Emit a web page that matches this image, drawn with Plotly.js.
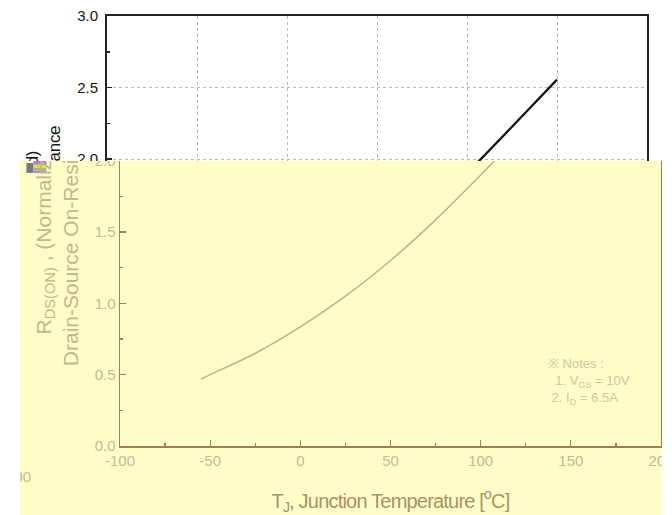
<!DOCTYPE html>
<html>
<head>
<meta charset="utf-8">
<script src="https://cdn.plot.ly/plotly-3.0.1.min.js"></script>
<style>
  html, body { margin: 0; padding: 0; background: #ffffff; }
  #page { position: relative; width: 672px; height: 515px; overflow: hidden; }
  #main { position: absolute; left: 0; top: 0; width: 672px; height: 515px; }
  #note { position: absolute; left: 20px; top: 161px; width: 642px; height: 354px; overflow: hidden; }
  #faded { position: absolute; left: -20px; top: -161px; width: 672px; height: 515px; }
  #faded .g-xtitle text { letter-spacing: -0.8px; }
  #main .g-ytitle text { letter-spacing: -0.3px; }
</style>
</head>
<body>
<div id="page">
  <div id="main"></div>
  <div id="note"><div id="faded"></div></div>
</div>
<script>
// Junction temperature (°C) and normalized on-resistance
var temperature = [-55, -50, -25, 0, 25, 50, 75, 100, 125, 150];
var rdsonNorm   = [0.47, 0.50, 0.65, 0.835, 1.05, 1.30, 1.585, 1.90, 2.225, 2.555];

var xTickVals = [-100, -50, 0, 50, 100, 150, 200];
var xTickText = ['-100', '-50', '0', '50', '100', '150', '200'];
var yTickVals = [0.0, 0.5, 1.0, 1.5, 2.0, 2.5, 3.0];
var yTickText = ['0.0', '0.5', '1.0', '1.5', '2.0', '2.5', '3.0'];

var xTitle = 'T<sub>J</sub>, Junction Temperature [<sup>o</sup>C]';
var yTitle = 'R<sub>DS(ON)</sub> , (Normalized)<br>Drain-Source On-Resistance';
var notesText = '\u203B Notes :<br>&nbsp;&nbsp;1. V<sub>GS</sub> = 10V<br>&nbsp;2. I<sub>D</sub> = 6.5A';
var strayLabel = '-100';

var sans = '"Liberation Sans", Arial, sans-serif';

// ---------- original chart (behind) ----------
var mainTrace = {
  x: temperature, y: rdsonNorm, type: 'scatter', mode: 'lines',
  line: { color: '#111111', width: 2.2, shape: 'spline' },
  hoverinfo: 'skip', showlegend: false
};
function mainAxis(extra) {
  var a = {
    showgrid: true, gridcolor: '#b8b8b8', griddash: 'dot', gridwidth: 1,
    showline: true, linecolor: '#222222', linewidth: 2, mirror: true,
    ticks: 'inside', ticklen: 5, tickcolor: '#222222', tickwidth: 1.5,
    zeroline: false, fixedrange: true, ticklabelstandoff: 4,
    tickfont: { family: sans, size: 15, color: '#111111' }
  };
  for (var k in extra) a[k] = extra[k];
  return a;
}
var mainLayout = {
  width: 672, height: 515,
  margin: { l: 107, r: 25, t: 16, b: 70 },
  paper_bgcolor: '#ffffff', plot_bgcolor: '#ffffff',
  showlegend: false,
  xaxis: mainAxis({ range: [-100, 200], tickvals: xTickVals, ticktext: xTickText,
    minor: { dtick: 25, ticks: 'inside', ticklen: 3, tickcolor: '#222222', showgrid: false },
    title: { text: xTitle, font: { family: sans, size: 18, color: '#111111' } } }),
  yaxis: mainAxis({ range: [0, 3], tickvals: yTickVals, ticktext: yTickText,
    minor: { dtick: 0.25, ticks: 'inside', ticklen: 3, tickcolor: '#222222', showgrid: false },
    title: { text: yTitle, standoff: 12, font: { family: sans, size: 17, color: '#111111' } } })
};
Plotly.newPlot('main', [mainTrace], mainLayout, { staticPlot: true, displayModeBar: false });

// ---------- yellow note with faded copy (in front) ----------
var fadedTrace = {
  x: temperature, y: rdsonNorm, type: 'scatter', mode: 'lines',
  line: { color: 'rgb(192,178,126)', width: 1.5, shape: 'spline' },
  hoverinfo: 'skip', showlegend: false
};
var tan = 'rgb(158,128,84)';
var tanText = 'rgb(200,184,140)';
function fadedAxis(extra) {
  var a = {
    showgrid: false, showline: true, linecolor: tan, linewidth: 1.5, mirror: true,
    ticks: 'inside', ticklen: 6, tickcolor: tan, tickwidth: 1.2,
    zeroline: false, fixedrange: true, ticklabeloverflow: 'allow',
    tickfont: { family: sans, size: 15, color: tanText }
  };
  for (var k in extra) a[k] = extra[k];
  return a;
}
var bg = 'rgb(255,253,200)';
var fadedLayout = {
  width: 672, height: 515,
  margin: { l: 120, r: 11, t: 18, b: 69 },
  paper_bgcolor: bg, plot_bgcolor: bg,
  showlegend: false,
  xaxis: fadedAxis({ range: [-100, 200], tickvals: xTickVals, ticktext: xTickText,
    minor: { dtick: 25, ticks: 'inside', ticklen: 3, tickcolor: tan },
    title: { text: xTitle, standoff: 27, font: { family: sans, size: 20, color: 'rgb(170,145,100)' } } }),
  yaxis: fadedAxis({ range: [0, 3], tickvals: yTickVals, ticktext: yTickText,
    minor: { dtick: 0.25, ticks: 'inside', ticklen: 3, tickcolor: tan },
    title: { text: yTitle, standoff: 10, font: { family: sans, size: 21, color: 'rgb(196,182,136)' } } }),
  annotations: [
    { xref: 'paper', yref: 'paper', x: 0.788, y: 0.15, xanchor: 'left', yanchor: 'middle',
      align: 'left', showarrow: false, text: notesText,
      font: { family: sans, size: 13, color: 'rgb(208,198,156)' } },
    { xref: 'paper', yref: 'paper', x: -0.161, y: -0.072, xanchor: 'right', yanchor: 'middle',
      showarrow: false, text: strayLabel, font: { family: sans, size: 15, color: tanText } }
  ],
  shapes: [
    { type: 'rect', xref: 'paper', yref: 'paper', x0: -0.173, x1: -0.160, y0: 0.638, y1: 0.661,
      fillcolor: '#7d7585', line: { width: 0 } },
    { type: 'rect', xref: 'paper', yref: 'paper', x0: -0.160, x1: -0.136, y0: 0.657, y1: 0.666,
      fillcolor: '#b47ad8', line: { width: 0 } },
    { type: 'rect', xref: 'paper', yref: 'paper', x0: -0.160, x1: -0.136, y0: 0.650, y1: 0.657,
      fillcolor: '#e2dc48', line: { width: 0 } },
    { type: 'rect', xref: 'paper', yref: 'paper', x0: -0.160, x1: -0.136, y0: 0.644, y1: 0.650,
      fillcolor: '#98c46c', line: { width: 0 } },
    { type: 'rect', xref: 'paper', yref: 'paper', x0: -0.160, x1: -0.136, y0: 0.638, y1: 0.644,
      fillcolor: '#c287d6', line: { width: 0 } }
  ]
};
Plotly.newPlot('faded', [fadedTrace], fadedLayout, { staticPlot: true, displayModeBar: false });
</script>
</body>
</html>
